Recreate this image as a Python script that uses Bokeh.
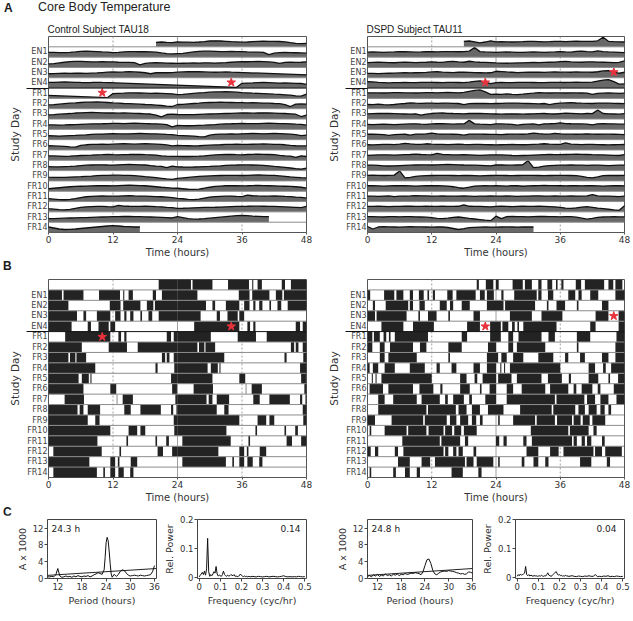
from bokeh.plotting import figure
from bokeh.models import Range1d, FixedTicker, Span, Label, Title, Div
from bokeh.layouts import column, row
from bokeh.embed import file_html
from bokeh.resources import INLINE

N = None

# ---------------- labels / ticks ----------------
row_labels = ["", "EN1", "EN2", "EN3", "EN4", "FR1", "FR2", "FR3", "FR4", "FR5", "FR6",
              "FR7", "FR8", "FR9", "FR10", "FR11", "FR12", "FR13", "FR14"]
time_ticks = [0, 12, 24, 36, 48]
en_fr_boundary = 5
period_ticks = [12, 18, 24, 30, 36]
amp_ticks = [0, 4, 8, 12]
freq_ticks = [0, 0.1, 0.2, 0.3, 0.4, 0.5]
power_ticks = [0, 0.1, 0.2]

# ---------------- Panel A: core body temperature (percent of row height, hourly) ----------------
# Control subject TAU18
tc_D0 = [N, N, N, N, N, N, N, N, N, N, N, N, N, N, N, N, N, N, N, N, 45, 48, 44, 42]
tc_EN1 = [48, 47, 46, 45, 48, 52, 58, 60, 58, 55, 52, 50, 46, 48, 52, 55, 56, 54, 55, 53, 50, 42, 35, 32]
tc_EN2 = [35, 38, 45, 52, 58, 60, 60, 58, 56, 55, 58, 56, 55, 52, 50, 50, 48, 25, 40, 45, 48, 46, 44, 42]
tc_EN3 = [40, 42, 44, 45, 44, 46, 45, 44, 46, 48, 52, 56, 58, 57, 58, 60, 58, 55, 50, 40, 50, 52, 50, 52]
tc_EN4 = [56, 58, 60, 62, 60, 58, 56, 55, 56, 58, 56, N, N, N, N, N, N, N, N, N, N, N, N, N]
tc_FR1 = [N, N, N, N, N, N, N, N, N, N, N, 8, 48, 50, 52, 55, 56, 54, 52, 50, 52, 50, 48, 46]
tc_FR2 = [38, 40, 45, 50, 55, 58, 62, 65, 66, 68, 66, 62, 58, 55, 52, 50, 48, 45, 42, 40, 36, 32, 25, 22]
tc_FR3 = [42, 44, 48, 52, 55, 60, 62, 64, 65, 64, 62, 60, 60, 58, 60, 58, 56, 55, 52, 50, 40, 22, 45, 48]
tc_FR4 = [45, 44, 43, 44, 46, 48, 50, 52, 54, 55, 56, 58, 60, 60, 58, 60, 62, 60, 58, 56, 55, 52, 48, 25]
tc_FR5 = [40, 38, 36, 38, 40, 42, 45, 48, 52, 55, 56, 58, 60, 58, 57, 58, 60, 62, 60, 58, 57, 55, 52, 50]
tc_FR6 = [42, 40, 38, 35, 30, 28, 45, 52, 55, 56, 58, 56, 58, 60, 62, 60, 58, 60, 62, 60, 58, 55, 50, 40]
tc_FR7 = [45, 44, 42, 40, 42, 45, 48, 50, 52, 55, 56, 58, 56, 55, 57, 58, 60, 58, 56, 55, 52, 45, 42, 40]
tc_FR8 = [40, 38, 38, 40, 42, 45, 50, 54, 56, 58, 58, 56, 55, 58, 60, 62, 60, 58, 56, 50, 45, 42, 30, 45]
tc_FR9 = [38, 36, 35, 36, 38, 40, 42, 45, 48, 52, 55, 56, 58, 57, 56, 55, 52, 48, 42, 38, 32, 26, 20, 15]
tc_FR10 = [25, 30, 35, 40, 45, 48, 50, 52, 54, 55, 56, 55, 54, 56, 58, 60, 58, 56, 55, 50, 45, 40, 36, 32]
tc_FR11 = [30, 25, 20, 18, 22, 30, 40, 48, 52, 55, 56, 55, 54, 55, 57, 58, 56, 55, 54, 52, 50, 48, 45, 40]
tc_FR12 = [32, 28, 22, 20, 25, 35, 45, 50, 52, 54, 55, 52, 50, 65, 58, 56, 55, 54, 56, 55, 52, 50, 45, 42]
tc_FR13 = [35, 36, 38, 40, 42, 44, 45, 46, 48, 50, 52, 54, 55, 56, 58, 57, 56, 55, 54, 52, 50, 48, 45, 42]
tc_FR14 = [55, 45, 35, 30, 32, 35, 40, 45, 50, 55, 60, 65, 68, 65, 60, 58, 55, 55]

# DSPD subject TAU11
td_D0 = [N, N, N, N, N, N, N, N, N, N, N, N, N, N, N, N, N, N, 55, 58, 50, 40, 48, 60]
td_EN1 = [50, 52, 50, 48, 50, 52, 55, 54, 52, 50, 52, 55, 54, 52, 55, 56, 55, 54, 55, 60, 95, 55, 52, 50]
td_EN2 = [48, 50, 52, 50, 48, 47, 50, 52, 50, 48, 50, 52, 55, 52, 50, 58, 60, 55, 52, 62, 55, 52, 50, 48]
td_EN3 = [45, 44, 42, 44, 45, 46, 48, 50, 48, 50, 52, 54, 58, 60, 56, 54, 52, 55, 56, 54, 52, 50, 48, 50]
td_EN4 = [65, 62, 58, 55, 52, 54, 55, 56, 55, 54, 56, 58, 57, 56, 55, 58, 57, 56, 55, 60, 68, 72, 60, 45]
td_FR1 = [55, 56, 55, 54, 56, 58, 57, 56, 55, 54, 56, 58, 57, 56, 58, 60, 58, 56, 60, 70, 80, 85, 65, 40]
td_FR2 = [42, 40, 45, 40, 38, 42, 48, 52, 58, 55, 54, 56, 55, 54, 56, 55, 54, 52, 40, 50, 52, 54, 52, 50]
td_FR3 = [52, 54, 55, 56, 55, 54, 52, 50, 48, 52, 40, 50, 55, 58, 60, 57, 55, 54, 52, 55, 56, 55, 54, 52]
td_FR4 = [50, 48, 50, 52, 50, 48, 50, 52, 54, 55, 52, 50, 54, 58, 56, 54, 52, 55, 54, 90, 55, 52, 50, 48]
td_FR5 = [55, 54, 52, 50, 42, 50, 52, 54, 45, 55, 56, 58, 65, 58, 56, 55, 54, 52, 45, 55, 56, 55, 54, 52]
td_FR6 = [52, 50, 54, 56, 55, 54, 58, 65, 60, 56, 55, 62, 58, 56, 55, 54, 56, 58, 55, 54, 56, 55, 54, 52]
td_FR7 = [50, 52, 54, 55, 54, 52, 54, 56, 58, 62, 58, 56, 55, 70, 58, 56, 54, 55, 56, 54, 52, 50, 52, 54]
td_FR8 = [55, 54, 52, 48, 46, 48, 50, 52, 54, 56, 58, 57, 56, 58, 60, 62, 60, 58, 56, 55, 54, 52, 50, 48]
td_FR9 = [56, 58, 55, 54, 56, 58, 100, 30, 35, 45, 50, 52, 54, 55, 56, 55, 54, 52, 55, 54, 52, 50, 52, 54]
td_FR10 = [55, 56, 54, 52, 54, 55, 56, 55, 54, 52, 54, 55, 56, 55, 54, 52, 45, 35, 30, 40, 52, 54, 55, 54]
td_FR11 = [55, 54, 52, 55, 56, 50, 54, 55, 56, 58, 57, 56, 55, 54, 56, 55, 54, 55, 56, 54, 52, 54, 55, 56]
td_FR12 = [54, 55, 56, 54, 52, 54, 55, 56, 57, 55, 54, 56, 55, 54, 56, 55, 54, 56, 70, 56, 55, 54, 52, 50]
td_FR13 = [55, 56, 54, 52, 55, 56, 54, 55, 56, 54, 52, 50, 45, 38, 35, 40, 48, 52, 45, 38, 32, 26, 20, 15]
td_FR14 = [60, 35, 55, 58, 56, 55, 54, 56, 58, 57, 56, 55, 54, 56, 55, 50, 40, 30, 38, 48, 52, 54, 55, 54]
td_FR15 = [54, 55, 56, 55, 54, 55, 56, 55]

# stars: (day index, hour)
ctrl_star = (5, 10.0)
dspd_star = (4, 22.0)

# ---------------- Panel B: sleep (black) intervals, hours ----------------
sc_D0 = [(20.5, 24)]
sc_EN1 = [(0, 2.5), (2.8, 6.5), (9.4, 13.3), (13.9, 14.1), (14.9, 15.7), (19.4, 20), (21.1, 24)]
sc_EN2 = [(0, 3.7), (11.4, 13.4), (13.9, 17.1), (18.3, 19.5), (19.8, 24)]
sc_EN3 = [(0, 5.3), (6.5, 7), (9, 11.5), (12.4, 13.4), (14.1, 14.5), (15.2, 15.8), (17.1, 17.4), (18.6, 19.3), (20.5, 24)]
sc_EN4 = [(0, 4.3), (7.3, 7.9), (9.3, 11.2), (11.5, 12.4)]
sc_FR1 = [(3.1, 11.5), (13, 13.5), (14.1, 14.5), (22, 22.8), (23.3, 24)]
sc_FR2 = [(0, 6.2), (11.2, 14.6), (16.6, 24)]
sc_FR3 = [(0, 3.7), (4, 5), (5.2, 7), (21.1, 21.7), (22, 22.5), (23.3, 24)]
sc_FR4 = [(0, 8.7), (19.9, 20.3), (23.4, 24)]
sc_FR5 = [(0, 5.6), (6.2, 7.5), (7.8, 8), (22.8, 24)]
sc_FR6 = [(0, 6.5), (11.5, 12.6), (23, 23.9)]
sc_FR7 = [(3, 6.6), (12.7, 12.8), (13.8, 15.7), (23.6, 24)]
sc_FR8 = [(0, 5.4), (5.8, 6.5), (7.3, 9.6), (14.1, 15.3), (17.1, 20.9), (22.8, 23.2), (23.8, 24)]
sc_FR9 = [(0, 7.3), (8.7, 9.5), (23.3, 24)]
sc_FR10 = [(0, 11.5), (14.9, 16.5), (17.1, 18), (23.4, 24)]
sc_FR11 = [(0, 9.1), (14.5, 14.8), (19.9, 20.2), (21.9, 22.4)]
sc_FR12 = [(0.9, 9.9), (13.2, 13.5), (20.3, 21.3), (23, 24)]
sc_FR13 = [(0, 7.6), (11.5, 12.4), (12.9, 13.2), (15.3, 16.5)]
sc_FR14 = [(0.9, 9), (10.2, 10.5), (11.5, 12.4), (13, 14), (15.2, 15.8)]

sd_D0 = [(20.4, 20.8), (22.1, 23.5)]
sd_EN1 = [(0, 0.5), (3.1, 5.0), (5.4, 6.7), (7.9, 8.5), (9.6, 10.5), (11.2, 11.5), (12.2, 12.6), (14.9, 15.9), (16.6, 20.2), (21, 21.9), (22.3, 23.6)]
sd_EN2 = [(1, 1.4), (3.4, 7.6), (7.9, 8.5), (9.7, 10.7), (13.5, 14.8), (15.4, 16), (17.6, 19.1), (22.3, 24)]
sd_EN3 = [(0, 1.4), (1.7, 7.3), (9.5, 9.8), (11.3, 12.9), (15.1, 15.4), (19.8, 21)]
sd_EN4 = [(2.6, 6.7), (8.5, 12.4), (18.6, 21), (22.9, 24)]
sd_FR1 = [(0, 0.9), (1.2, 2.3), (3, 3.5), (4, 4.3), (5.1, 11.3), (17.6, 18.6), (22.9, 24)]
sd_FR2 = [(0, 0.9), (2.3, 3.2), (4.2, 8.5), (9.8, 11), (15.1, 17.6), (22.5, 24)]
sd_FR3 = [(2.3, 3.2), (3.9, 9.2), (15.1, 15.4), (22.3, 24)]
sd_FR4 = [(0, 0.4), (1, 2), (3.2, 5.1), (7.9, 10.7), (12.9, 13.5), (15.7, 16.6), (19.8, 21), (22.3, 24)]
sd_FR5 = [(0.8, 1), (1.5, 1.7), (2.6, 12), (17.3, 18.5), (20, 20.5), (21.5, 24)]
sd_FR6 = [(0.4, 2.9), (3.9, 8.5), (9.7, 12.3), (13.6, 14), (17.3, 19.1), (21, 21.3), (22.8, 24)]
sd_FR7 = [(2, 3.2), (4.8, 9.2), (10.1, 13.5), (14.5, 15), (16, 18), (19, 19.5), (22, 24)]
sd_FR8 = [(2, 11), (11.3, 16.5), (17, 18.5), (19.5, 21), (22.5, 24)]
sd_FR9 = [(0, 1.4), (4.5, 10.4), (10.7, 14.8), (15.4, 16.6), (17.3, 18.8), (19.5, 20.3), (21, 21.5)]
sd_FR10 = [(0.4, 0.7), (3.2, 7.3), (7.6, 11), (11.4, 14.2), (14.5, 15.8), (16.2, 17.5), (18, 20.4)]
sd_FR11 = [(6.5, 13.5), (13.8, 17.3), (18.2, 18.8)]
sd_FR12 = [(0, 0.6), (1.4, 2), (5.1, 5.7), (6.7, 14.2), (14.5, 15.1), (16, 16.6), (17, 17.8), (19.8, 20.3)]
sd_FR13 = [(5.7, 7.9), (10.1, 11.7), (12.6, 18.2), (18.5, 19.8), (20.4, 23.5)]
sd_FR14 = [(0.4, 0.7), (4.8, 5.3), (7, 7.9), (9.2, 9.8), (15.7, 17.8), (20.7, 21.3)]

# ---------------- Panel C: periodograms ----------------
pc_period = [9.5, 10, 10.5, 11, 11.5, 12, 12.5, 13, 13.5, 14, 14.5, 15, 15.5, 16, 16.5, 17, 17.5, 18, 18.5, 19,
             19.5, 20, 20.5, 21, 21.5, 22, 22.5, 23, 23.5, 23.75, 24, 24.25, 24.5, 24.75, 25, 25.25, 25.5, 26,
             26.5, 27, 27.5, 28, 28.5, 29, 29.5, 30, 30.5, 31, 31.5, 32, 32.5, 33, 33.5, 34, 34.5, 35, 35.5, 36]
pc_amp = [0.3, 0.3, 0.4, 0.3, 0.8, 2.3, 0.5, 0.2, 0.3, 0.5, 0.3, 0.4, 0.2, 0.5, 0.3, 0.6, 0.4, 0.3, 0.5, 0.4,
          0.6, 0.3, 0.5, 0.8, 1.0, 1.3, 1.1, 0.9, 2.0, 5.0, 8.6, 9.8, 9.0, 6.5, 3.5, 1.0, 0.2, 0.9,
          0.4, 0.8, 1.6, 2.0, 1.8, 1.2, 0.7, 0.5, 0.6, 0.7, 0.6, 0.5, 0.7, 0.6, 0.5, 0.6, 0.7, 0.8, 1.5, 3.0]
pc_thr_period = [9.44, 36.5]
pc_thr_amp = [0.65, 2.3]

pd_period = [9.5, 10, 10.5, 11, 11.5, 12, 12.5, 13, 13.5, 14, 14.5, 15, 15.5, 16, 16.5, 17, 17.5, 18, 18.5, 19,
             19.5, 20, 20.5, 21, 21.5, 22, 22.5, 23, 23.5, 24, 24.5, 25, 25.5, 26, 26.5, 27, 27.5, 28, 28.5, 29,
             29.5, 30, 30.5, 31, 31.5, 32, 32.5, 33, 33.5, 34, 34.5, 35, 35.5, 36]
pd_amp = [0.4, 0.6, 0.3, 0.8, 0.5, 0.9, 0.4, 0.7, 0.5, 1.0, 0.6, 0.8, 0.5, 0.9, 0.7, 1.0, 0.6, 0.9, 0.8, 1.1,
          0.9, 1.0, 1.2, 1.1, 1.3, 1.2, 1.1, 0.8, 1.5, 3.0, 4.4, 4.6, 3.5, 1.8, 1.0, 0.8, 1.2, 1.5, 1.6, 1.7,
          1.6, 1.8, 1.7, 1.6, 1.5, 1.3, 1.2, 1.0, 1.1, 0.9, 1.0, 1.5, 1.4, 1.2]
pd_thr_period = [9.5, 36.0]
pd_thr_amp = [0.65, 2.3]

freq = [0, 0.005, 0.01, 0.015, 0.02, 0.025, 0.03, 0.035, 0.04, 0.045, 0.05, 0.055, 0.06, 0.065, 0.07, 0.075,
        0.08, 0.085, 0.09, 0.095, 0.1, 0.105, 0.11, 0.115, 0.12, 0.125, 0.13, 0.135, 0.14, 0.145, 0.15, 0.155,
        0.16, 0.165, 0.17, 0.175, 0.18, 0.185, 0.19, 0.195, 0.2, 0.205, 0.21, 0.215, 0.22, 0.225, 0.23, 0.235,
        0.24, 0.245, 0.25, 0.26, 0.27, 0.28, 0.29, 0.3, 0.31, 0.32, 0.33, 0.34, 0.35, 0.36, 0.37, 0.38, 0.39,
        0.4, 0.41, 0.42, 0.43, 0.44, 0.45, 0.46, 0.47, 0.48, 0.49, 0.5]
pc_power = [0.002, 0.008, 0.012, 0.018, 0.010, 0.022, 0.008, 0.030, 0.135, 0.020, 0.004, 0.010, 0.006, 0.012,
            0.020, 0.015, 0.038, 0.012, 0.005, 0.008, 0.006, 0.004, 0.010, 0.022, 0.010, 0.006, 0.004, 0.008,
            0.005, 0.006, 0.010, 0.008, 0.006, 0.010, 0.004, 0.005, 0.003, 0.004, 0.006, 0.012, 0.008, 0.004,
            0.003, 0.005, 0.003, 0.004, 0.002, 0.004, 0.003, 0.002, 0.004, 0.003, 0.002, 0.004, 0.003, 0.002,
            0.003, 0.004, 0.002, 0.003, 0.004, 0.003, 0.002, 0.003, 0.004, 0.006, 0.003, 0.002, 0.003, 0.002,
            0.003, 0.002, 0.004, 0.003, 0.002, 0.003]
pd_power = [0.004, 0.010, 0.006, 0.012, 0.008, 0.010, 0.012, 0.015, 0.038, 0.010, 0.006, 0.010, 0.005, 0.008,
            0.006, 0.004, 0.007, 0.005, 0.006, 0.004, 0.005, 0.006, 0.004, 0.008, 0.005, 0.004, 0.006, 0.005,
            0.010, 0.016, 0.008, 0.006, 0.004, 0.006, 0.010, 0.014, 0.018, 0.020, 0.012, 0.008, 0.010, 0.006,
            0.008, 0.004, 0.006, 0.005, 0.008, 0.004, 0.006, 0.003, 0.005, 0.006, 0.004, 0.003, 0.005, 0.004,
            0.003, 0.005, 0.004, 0.006, 0.004, 0.004, 0.010, 0.003, 0.004, 0.003, 0.005, 0.004, 0.006, 0.003,
            0.004, 0.003, 0.005, 0.004, 0.003, 0.004]

ctrl_temp_days = [tc_D0, tc_EN1, tc_EN2, tc_EN3, tc_EN4, tc_FR1, tc_FR2, tc_FR3, tc_FR4, tc_FR5, tc_FR6,
                  tc_FR7, tc_FR8, tc_FR9, tc_FR10, tc_FR11, tc_FR12, tc_FR13, tc_FR14]
dspd_temp_days = [td_D0, td_EN1, td_EN2, td_EN3, td_EN4, td_FR1, td_FR2, td_FR3, td_FR4, td_FR5, td_FR6,
                  td_FR7, td_FR8, td_FR9, td_FR10, td_FR11, td_FR12, td_FR13, td_FR14, td_FR15]
ctrl_sleep_days = [sc_D0, sc_EN1, sc_EN2, sc_EN3, sc_EN4, sc_FR1, sc_FR2, sc_FR3, sc_FR4, sc_FR5, sc_FR6,
                   sc_FR7, sc_FR8, sc_FR9, sc_FR10, sc_FR11, sc_FR12, sc_FR13, sc_FR14]
dspd_sleep_days = [sd_D0, sd_EN1, sd_EN2, sd_EN3, sd_EN4, sd_FR1, sd_FR2, sd_FR3, sd_FR4, sd_FR5, sd_FR6,
                   sd_FR7, sd_FR8, sd_FR9, sd_FR10, sd_FR11, sd_FR12, sd_FR13, sd_FR14]

NROWS = len(row_labels)
SANS = "DejaVu Sans"
ARIAL = "Liberation Sans"
TXT = "#333333"
STAR_COLOR = "#e8323c"
UNDERLINE = 22


def actogram_base(width, left, right, top, bottom, height):
    p = figure(width=width, height=height, x_range=Range1d(0, 48), y_range=Range1d(NROWS, 0),
               min_border_left=left, min_border_right=right, min_border_top=top, min_border_bottom=bottom,
               output_backend="svg", toolbar_location=None, title=None)
    p.xgrid.visible = False
    p.ygrid.visible = False
    p.outline_line_color = "#555555"
    p.background_fill_color = "white"
    p.border_fill_color = "white"
    xa = p.xaxis[0]
    xa.ticker = FixedTicker(ticks=time_ticks, minor_ticks=[])
    xa.axis_line_color = None
    xa.major_tick_out = 2
    xa.major_tick_in = 0
    xa.major_tick_line_color = "#555555"
    xa.minor_tick_line_color = None
    xa.major_label_standoff = 1
    xa.major_label_text_font = SANS
    xa.major_label_text_font_size = "9px"
    xa.major_label_text_color = TXT
    xa.axis_label = "Time (hours)"
    xa.axis_label_standoff = 1
    xa.axis_label_text_font = SANS
    xa.axis_label_text_font_size = "10px"
    xa.axis_label_text_font_style = "normal"
    xa.axis_label_text_color = TXT
    ya = p.yaxis[0]
    centers = [r + 0.5 for r in range(NROWS)]
    ya.ticker = FixedTicker(ticks=centers, minor_ticks=[en_fr_boundary])
    ya.major_label_overrides = {c: lab for c, lab in zip(centers, row_labels)}
    ya.axis_line_color = None
    ya.major_tick_out = 0
    ya.major_tick_in = 0
    ya.major_tick_line_color = None
    ya.minor_tick_out = UNDERLINE
    ya.minor_tick_in = 0
    ya.minor_tick_line_color = "#111111"
    ya.minor_tick_line_width = 1
    ya.major_label_standoff = 1 - UNDERLINE
    ya.major_label_text_font = SANS
    ya.major_label_text_font_size = "8px"
    ya.major_label_text_color = "#444444"
    ya.axis_label = "Study Day"
    ya.axis_label_standoff = 3
    ya.axis_label_text_font = SANS
    ya.axis_label_text_font_size = "10.5px"
    ya.axis_label_text_font_style = "normal"
    ya.axis_label_text_color = TXT
    for h in time_ticks[1:-1]:
        dash = "solid" if h == 24 else "2 2"
        p.add_layout(Span(location=h, dimension="height", line_color="#a0a0a0", line_width=1,
                          line_dash=dash, level="underlay"))
    return p


def add_separators(p):
    for r in range(1, NROWS):
        color = "#111111" if r == en_fr_boundary else "#8c8c8c"
        p.add_layout(Span(location=r, dimension="width", line_color=color, line_width=1))


def temp_fig(days, star, width, left, right, subtitle):
    p = actogram_base(width, left, right, 20, 25, 244)
    xs_f, ys_f, xs_l, ys_l = [], [], [], []
    for r in range(NROWS):
        px, py = [], []
        for k, off in ((r - 1, -24), (r, 0), (r + 1, 24), (r + 2, 48)):
            if 0 <= k < len(days):
                for h, v in enumerate(days[k]):
                    if v is not None:
                        px.append(off + h)
                        py.append(r + 1 - 0.97 * v / 100.0)
        if not px:
            continue
        xs_f.append([px[0]] + px + [px[-1]])
        ys_f.append([r + 1] + py + [r + 1])
        xs_l.append(px)
        ys_l.append(py)
    p.patches(xs_f, ys_f, fill_color="#686868", line_color=None)
    p.multi_line(xs_l, ys_l, line_color="#111111", line_width=1.3)
    add_separators(p)
    d, h = star
    p.scatter([h, h + 24], [d + 0.45, d - 1 + 0.45], marker="star", size=9,
              fill_color=STAR_COLOR, line_color=STAR_COLOR)
    p.add_layout(Title(text=subtitle, align="left", offset=-1, standoff=4, text_font=ARIAL,
                       text_font_size="10px", text_font_style="normal", text_color="#222222"), "above")
    return p


def sleep_fig(days, star, width, left, right):
    p = actogram_base(width, left, right, 7, 27, 233)
    L, R, T, B = [], [], [], []
    for r in range(NROWS):
        for k, off in ((r, 0), (r + 1, 24)):
            if k < len(days):
                for s, e in days[k]:
                    L.append(off + s)
                    R.append(off + e)
                    T.append(r)
                    B.append(r + 1)
    p.quad(left=L, right=R, top=T, bottom=B, fill_color="#232323", line_color=None)
    add_separators(p)
    d, h = star
    p.scatter([h, h + 24], [d + 0.5, d - 1 + 0.5], marker="star", size=9,
              fill_color=STAR_COLOR, line_color=STAR_COLOR)
    return p


def small_base(width, left, right, xr, yr, xticks, yticks, xlabel, ylabel, overrides_x=None, overrides_y=None):
    p = figure(width=width, height=106, x_range=Range1d(*xr), y_range=Range1d(*yr),
               min_border_left=left, min_border_right=right, min_border_top=4, min_border_bottom=43,
               output_backend="svg", toolbar_location=None, title=None)
    p.xgrid.visible = False
    p.ygrid.visible = False
    p.outline_line_color = "#444444"
    for ax, ticks, lab, ov in ((p.xaxis[0], xticks, xlabel, overrides_x), (p.yaxis[0], yticks, ylabel, overrides_y)):
        ax.ticker = FixedTicker(ticks=ticks, minor_ticks=[])
        if ov:
            ax.major_label_overrides = ov
        ax.axis_line_color = None
        ax.major_tick_out = 3
        ax.major_tick_in = 0
        ax.major_tick_line_color = "#444444"
        ax.minor_tick_line_color = None
        ax.major_label_standoff = 1
        ax.major_label_text_font = SANS
        ax.major_label_text_font_size = "8.5px"
        ax.major_label_text_color = TXT
        ax.axis_label = lab
        ax.axis_label_standoff = 2
        ax.axis_label_text_font = SANS
        ax.axis_label_text_font_size = "9.5px"
        ax.axis_label_text_font_style = "normal"
        ax.axis_label_text_color = TXT
    return p


def period_fig(width, left, right, xr, per, amp, thr_p, thr_a, peak_text):
    p = small_base(width, left, right, xr, (-0.1, 14.1), period_ticks, amp_ticks, "Period (hours)", "A x 1000")
    p.line(thr_p, thr_a, line_color="#222222", line_width=1)
    p.line(per, amp, line_color="#111111", line_width=1)
    p.add_layout(Label(x=4, y=50, x_units="screen", y_units="screen", text=peak_text,
                       text_font=SANS, text_font_size="9px", text_baseline="middle",
                       text_align="left", text_color="#222222"))
    return p


def freq_fig(width, left, right, fr, pw, peak_text):
    ox = {0: "0", 0.1: "0.1", 0.2: "0.2", 0.3: "0.3", 0.4: "0.4", 0.5: "0.5"}
    oy = {0: "0", 0.1: "0.1", 0.2: "0.2"}
    p = small_base(width, left, right, (-0.008, 0.508), (-0.0035, 0.2), freq_ticks, power_ticks,
                   "Frequency (cyc/hr)", "Rel. Power", ox, oy)
    p.line(fr, pw, line_color="#111111", line_width=1)
    p.add_layout(Label(x=width - left - right - 8, y=50, x_units="screen", y_units="screen", text=peak_text,
                       text_font=SANS, text_font_size="9px", text_baseline="middle",
                       text_align="right", text_color="#222222"))
    return p


def letter_div(letter, height, left, extra=""):
    html = ('<div style="position:relative;width:633px;height:%dpx;font-family:\'Liberation Sans\',Arial,sans-serif;color:#1a1a1a;">'
            '<span style="position:absolute;left:%dpx;top:0px;font-size:12px;font-weight:bold;line-height:%dpx;">%s</span>%s</div>'
            % (height, left, height, letter, extra))
    return Div(text=html, width=633, height=height, margin=0)


main_title = ('<span style="position:absolute;left:38px;top:0px;font-size:12.5px;line-height:15px;color:#222;">'
              'Core Body Temperature</span>')

divA = letter_div("A", 16, 4, main_title)
A1 = temp_fig(ctrl_temp_days, ctrl_star, 313, 48, 7, "Control Subject TAU18")
A2 = temp_fig(dspd_temp_days, dspd_star, 320, 54, 9, "DSPD Subject TAU11")

divB = letter_div("B", 12, 3)
B1 = sleep_fig(ctrl_sleep_days, ctrl_star, 313, 48, 7)
B2 = sleep_fig(dspd_sleep_days, dspd_star, 320, 54, 9)

divC = letter_div("C", 10, 3)
C1 = period_fig(160, 47, 4, (9.44, 36.5), pc_period, pc_amp, pc_thr_period, pc_thr_amp, "24.3 h")
C2 = freq_fig(153, 35, 7, freq, pc_power, "0.14")
C3 = period_fig(163, 54, 4, (9.5, 36.0), pd_period, pd_amp, pd_thr_period, pd_thr_amp, "24.8 h")
C4 = freq_fig(157, 39, 9, freq, pd_power, "0.04")

layout = column(divA, row(A1, A2), divB, row(B1, B2), divC, row(C1, C2, C3, C4))

open("out.html", "w").write(file_html(layout, INLINE))
